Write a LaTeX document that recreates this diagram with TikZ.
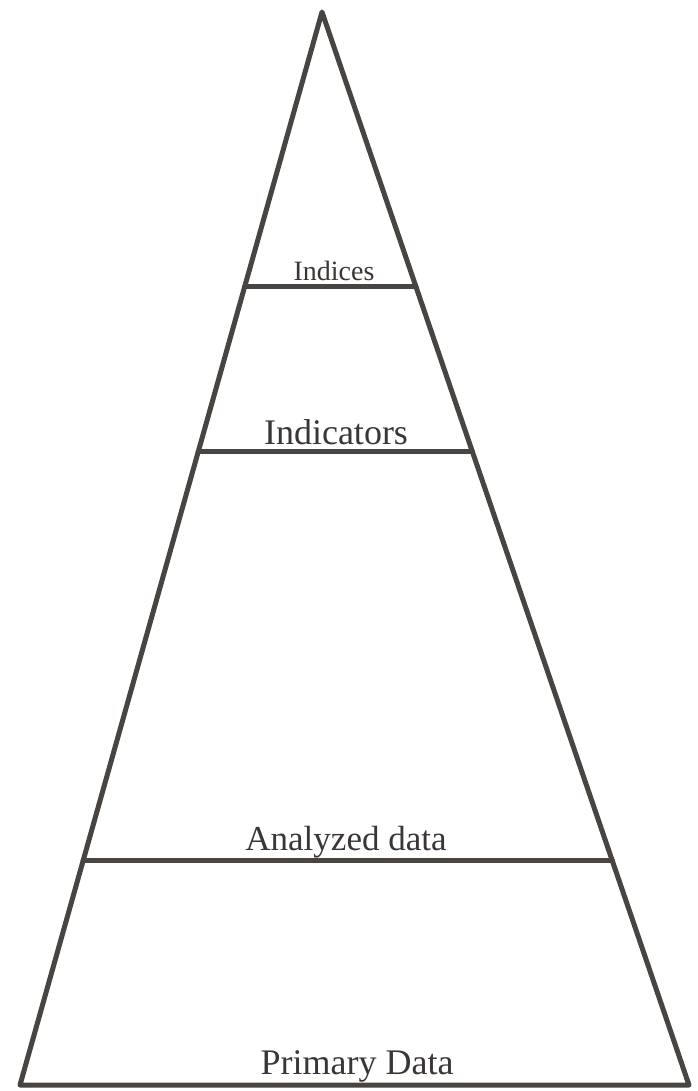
\documentclass[tikz,border=0pt]{standalone}
\usepackage{fontspec}
\setmainfont{Liberation Serif}
\usepackage{tikz}
\usetikzlibrary{calc}
\definecolor{pyrgray}{RGB}{72,68,66}
\tikzset{
  pyrline/.style={line width=5pt, pyrgray, line cap=round, line join=round},
  levellabel/.style={anchor=base, text=pyrgray!80!black, inner sep=0pt},
}

\begin{document}
\begin{tikzpicture}[x=1pt, y=-1pt]
      \useasboundingbox (0,0) rectangle (697,1091);
      \coordinate (apex) at (322,12);
      \coordinate (bl) at (20,1085);
      \coordinate (br) at (689,1085);
      \coordinate (indL) at ($(apex)!0.256!(bl)$);
      \coordinate (indR) at ($(apex)!0.256!(br)$);
      \coordinate (indcL) at ($(apex)!0.410!(bl)$);
      \coordinate (indcR) at ($(apex)!0.410!(br)$);
      \coordinate (anaL) at ($(apex)!0.791!(bl)$);
      \coordinate (anaR) at ($(apex)!0.791!(br)$);
      \draw[pyrline] (apex) -- (bl) -- (br) -- cycle ;
      \draw[pyrline] (indL) -- (indR) ;
      \draw[pyrline] (indcL) -- (indcR) ;
      \draw[pyrline] (anaL) -- (anaR) ;
      \node[levellabel, font=\fontsize{28}{30}\selectfont] (indices) at (334,280) {Indices};
      \node[levellabel, font=\fontsize{36}{38}\selectfont] (indicators) at (336,444) {Indicators};
      \node[levellabel, font=\fontsize{35}{38}\selectfont] (analyzed) at (346,850) {Analyzed data};
      \node[levellabel, font=\fontsize{36}{38}\selectfont] (primary) at (357,1074) {Primary Data};
    \end{tikzpicture}
\end{document}
